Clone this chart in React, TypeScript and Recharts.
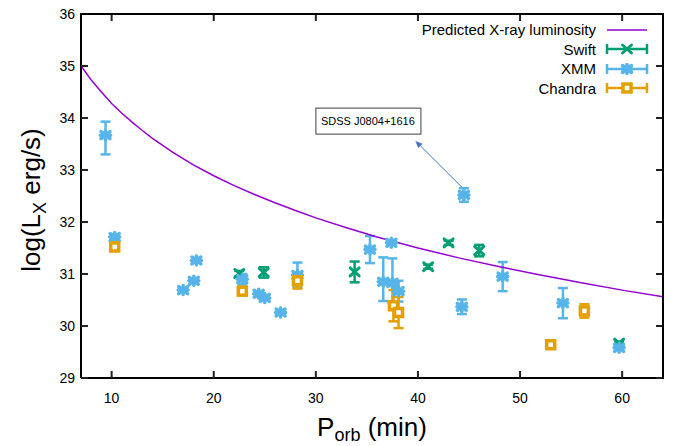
import {
  ComposedChart,
  Scatter,
  ErrorBar,
  XAxis,
  YAxis,
  ReferenceDot,
  ReferenceLine,
} from 'recharts';

const xTicks = [10, 20, 30, 40, 50, 60];
const yTicks = [29, 30, 31, 32, 33, 34, 35, 36];

// predicted curve
const curveP = [7, 8, 9, 10, 11, 12, 13, 14, 16, 18, 20, 22, 24, 26, 28, 30, 33, 36, 40, 44, 48, 52, 56, 60, 64];
const curveL = [35.0, 34.73, 34.5, 34.28, 34.09, 33.92, 33.76, 33.61, 33.34, 33.1, 32.89, 32.7, 32.53, 32.37, 32.22, 32.08, 31.89, 31.71, 31.5, 31.31, 31.14, 30.98, 30.83, 30.69, 30.56];

const swiftP = [22.5, 24.9, 33.8, 41.0, 43.0, 46.0, 59.7];
const swiftL = [31.01, 31.03, 31.04, 31.14, 31.6, 31.45, 29.67];
const swiftErr = [0.05, 0.1, 0.2, 0.04, 0.04, 0.11, 0.03];

const xmmP = [9.4, 10.3, 17.0, 18.05, 18.3, 22.8, 24.4, 25.0, 26.55, 28.2, 35.3, 36.6, 37.4, 37.5, 38.1, 44.3, 44.5, 48.3, 54.2, 59.7];
const xmmL = [33.67, 31.71, 30.69, 30.87, 31.26, 30.9, 30.62, 30.54, 30.26, 30.98, 31.47, 30.85, 31.6, 30.83, 30.67, 30.37, 32.52, 30.95, 30.44, 29.58];
const xmmErr: (number | number[])[] = [[0.37, 0.26], 0.05, 0.03, 0.03, 0.03, 0.1, 0.03, 0.04, 0.03, 0.24, 0.26, [0.37, 0.47], 0.03, [0.39, 0.47], 0.2, 0.14, 0.13, 0.28, 0.29, 0.04];

const chandraP = [10.3, 22.8, 28.2, 37.6, 38.1, 53.0, 56.3];
const chandraL = [31.52, 30.67, 30.87, 30.39, 30.26, 29.64, 30.29];
const chandraErr = [0.08, 0.08, 0.15, 0.3, 0.3, 0.03, 0.13];

const PURPLE = '#9400d3';
const GREEN = '#009e73';
const BLUE = '#56b4e9';
const ORANGE = '#e69f00';
const FONT = '"Liberation Sans", Arial, sans-serif';

// plot box size, used to mirror the ticks on the top and right sides
const PLOT_W = 582;
const PLOT_H = 364;

const curve = curveP.map((p, i) => ({ p, l: curveL[i] }));
const swift = swiftP.map((p, i) => ({ p, l: swiftL[i], err: swiftErr[i] }));
const xmm = xmmP.map((p, i) => ({ p, l: xmmL[i], err: xmmErr[i] }));
const chandra = chandraP.map((p, i) => ({ p, l: chandraL[i], err: chandraErr[i] }));

const SwiftMark = ({ cx, cy, color = GREEN }: any) => (
  <g stroke={color} strokeWidth={3} strokeLinecap="round">
    <line x1={cx - 4.5} y1={cy - 4} x2={cx + 4.5} y2={cy + 4} />
    <line x1={cx - 4.5} y1={cy + 4} x2={cx + 4.5} y2={cy - 4} />
  </g>
);

const XmmMark = ({ cx, cy, color = BLUE }: any) => (
  <g stroke={color} strokeWidth={3.5} strokeLinecap="round">
    <line x1={cx - 4.5} y1={cy - 3.5} x2={cx + 4.5} y2={cy + 3.5} />
    <line x1={cx - 4.5} y1={cy + 3.5} x2={cx + 4.5} y2={cy - 3.5} />
    <line x1={cx - 5} y1={cy} x2={cx + 5} y2={cy} />
    <line x1={cx} y1={cy - 4.5} x2={cx} y2={cy + 4.5} />
  </g>
);

const ChandraMark = ({ cx, cy, color = ORANGE }: any) => (
  <rect x={cx - 4} y={cy - 4} width={8} height={8} fill="#fff" stroke={color} strokeWidth={3.5} />
);

// tick marks as small filled rects, inward, mirrored on the opposite side
const BottomTick = ({ x, y, payload }: any) => (
  <g>
    <rect x={x - 1} y={y - 7} width={2} height={7} fill="#222" />
    <rect x={x - 1} y={y - PLOT_H} width={2} height={7} fill="#222" />
    <text x={x} y={y + 25} textAnchor="middle" fontSize={14} fontFamily={FONT} fill="#000">
      {payload.value}
    </text>
  </g>
);

const LeftTick = ({ x, y, payload }: any) => (
  <g>
    <rect x={x} y={y - 1} width={7} height={2} fill="#222" />
    <rect x={x + PLOT_W - 7} y={y - 1} width={7} height={2} fill="#222" />
    <text x={x - 6} y={y + 5} textAnchor="end" fontSize={14} fontFamily={FONT} fill="#000">
      {payload.value}
    </text>
  </g>
);

const Sample = ({ color, Mark }: any) => (
  <svg width={46} height={16} style={{ marginLeft: 8 }}>
    <g stroke={color} strokeWidth={2.5}>
      <line x1={3} x2={43} y1={8} y2={8} />
      <line x1={3} x2={3} y1={3} y2={13} />
      <line x1={43} x2={43} y1={3} y2={13} />
    </g>
    <Mark cx={23} cy={8} color={color} />
  </svg>
);

const legendRows = [
  { name: 'Predicted X-ray luminosity', color: PURPLE, Mark: null },
  { name: 'Swift', color: GREEN, Mark: SwiftMark },
  { name: 'XMM', color: BLUE, Mark: XmmMark },
  { name: 'Chandra', color: ORANGE, Mark: ChandraMark },
];

const LegendBox = () => (
  <div
    style={{
      position: 'absolute',
      top: 20,
      left: 300,
      width: 350,
      fontFamily: FONT,
      fontSize: 15,
      color: '#000',
    }}
  >
    {legendRows.map((r) => (
      <div key={r.name} style={{ display: 'flex', justifyContent: 'flex-end', alignItems: 'center', height: 19.5 }}>
        <span>{r.name}</span>
        {r.Mark ? (
          <Sample color={r.color} Mark={r.Mark} />
        ) : (
          <svg width={46} height={16} style={{ marginLeft: 8 }}>
            <line x1={3} x2={43} y1={8} y2={8} stroke={r.color} strokeWidth={1.5} />
          </svg>
        )}
      </div>
    ))}
  </div>
);

const NoteBox = ({ cx, cy }: any) => (
  <g>
    <rect x={cx - 52} y={cy - 13} width={105} height={26} fill="#fff" stroke="#404040" strokeWidth={1} />
    <text x={cx} y={cy + 4} textAnchor="middle" fontSize={11} fontFamily={FONT} fill="#000">
      SDSS J0804+1616
    </text>
  </g>
);

const Arrow = (props: any) => {
  const { x1, y1, x2, y2 } = props;
  if (x1 == null) return null;
  const dx = x2 - x1;
  const dy = y2 - y1;
  const len = Math.sqrt(dx * dx + dy * dy);
  const ux = dx / len;
  const uy = dy / len;
  const hx = x2 - ux * 7;
  const hy = y2 - uy * 7;
  return (
    <g>
      <line x1={x1} y1={y1} x2={hx} y2={hy} stroke="#4472c4" strokeWidth={1} />
      <polygon
        points={`${x2},${y2} ${hx - uy * 3},${hy + ux * 3} ${hx + uy * 3},${hy - ux * 3}`}
        fill="#4472c4"
      />
    </g>
  );
};

const XTitle = ({ viewBox }: any) => (
  <text x={viewBox.x + viewBox.width / 2} y={436} textAnchor="middle" fontSize={26} fontFamily={FONT} fill="#000">
    P<tspan dy={5} fontSize={18}>orb</tspan>
    <tspan dy={-5}> (min)</tspan>
  </text>
);

const YTitle = () => (
  <text x={0} y={0} transform="translate(40,200) rotate(-90)" textAnchor="middle" fontSize={26} fontFamily={FONT} fill="#000">
    log(L<tspan dy={6} fontSize={18}>X</tspan>
    <tspan dy={-6}> erg/s)</tspan>
  </text>
);

const axisProps = {
  type: 'number' as const,
  interval: 0 as const,
  allowDataOverflow: true,
  tickSize: 0,
  tickMargin: 0,
  tickLine: false,
  axisLine: { stroke: '#000', strokeWidth: 2 },
};

export default function App() {
  return (
    <div style={{ position: 'fixed', left: 0, top: 0, width: 673, height: 446, background: '#fff' }}>
      <ComposedChart width={673} height={446} margin={{ top: 14, right: 10, bottom: 0, left: 0 }}>
        <XAxis {...axisProps} dataKey="p" domain={[7, 64]} ticks={xTicks} height={68} tick={<BottomTick />} label={<XTitle />} />
        <YAxis {...axisProps} domain={[29, 36]} ticks={yTicks} width={81} tick={<LeftTick />} label={<YTitle />} />
        <Scatter
          name="Predicted X-ray luminosity"
          data={curve}
          dataKey="l"
          line={{ stroke: PURPLE, strokeWidth: 1.5 }}
          shape={() => <g />}
          isAnimationActive={false}
        />
        <ReferenceLine
          segment={[{ x: 44.4, y: 32.65 }, { x: 39.75, y: 33.56 }]}
          shape={<Arrow />}
          ifOverflow="visible"
        />
        <ReferenceDot x={35.1} y={33.94} r={1} shape={<NoteBox />} ifOverflow="visible" />
        <Scatter name="Swift" data={swift} dataKey="l" shape={<SwiftMark />} isAnimationActive={false}>
          <ErrorBar dataKey="err" direction="y" width={5} strokeWidth={2.5} stroke={GREEN} />
        </Scatter>
        <Scatter name="XMM" data={xmm} dataKey="l" shape={<XmmMark />} isAnimationActive={false}>
          <ErrorBar dataKey="err" direction="y" width={5} strokeWidth={2.5} stroke={BLUE} />
        </Scatter>
        <Scatter name="Chandra" data={chandra} dataKey="l" shape={<ChandraMark />} isAnimationActive={false}>
          <ErrorBar dataKey="err" direction="y" width={5} strokeWidth={2.5} stroke={ORANGE} />
        </Scatter>
      </ComposedChart>
      {/* top and right sides of the plot frame */}
      <div
        style={{
          position: 'absolute',
          left: 80,
          top: 13,
          width: 582,
          height: 364,
          borderTop: '2px solid #000',
          borderRight: '2px solid #000',
          pointerEvents: 'none',
        }}
      />
      <LegendBox />
    </div>
  );
}
